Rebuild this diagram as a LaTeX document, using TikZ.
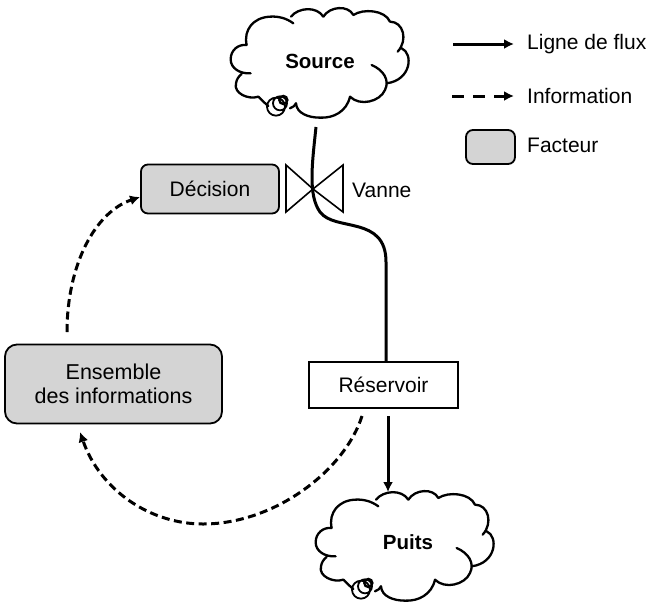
\documentclass[tikz,border=0pt]{standalone}
\usepackage{fontspec}
\setmainfont{Liberation Sans}
\usetikzlibrary{arrows.meta}
\tikzset{
  factor/.style={draw=black, fill=black!17, rounded corners=7pt, line width=1.8pt, inner sep=0pt, align=center, font=\fontsize{21}{24}\selectfont},
  stock/.style={draw=black, fill=white, line width=2.2pt, inner sep=0pt, font=\fontsize{21}{24}\selectfont},
  label/.style={inner sep=0pt, anchor=west, font=\fontsize{21}{27}\selectfont},
  cloudlabel/.style={inner sep=0pt, font=\bfseries\fontsize{20.5}{24}\selectfont},
  flow/.style={line width=3pt, -{Latex[length=10pt,width=10pt]}},
  plainflow/.style={line width=3pt},
  info/.style={line width=3pt, dash pattern=on 8pt off 4.5pt, -{Latex[length=10pt,width=10pt]}},
  legendinfo/.style={line width=3pt, dash pattern=on 12pt off 9pt, -{Latex[length=10pt,width=10pt]}},
  valve/.style={line width=1.6pt, line join=miter},
  cloudline/.style={line width=2.3pt, line cap=round},
  pics/fluxcloud/.style={code={
    \draw[cloudline, x=0.3333pt, y=-0.3333pt]
      (122,220) .. controls (90,222) and (62,205) .. (62,178) .. controls (62,150) and (85,132) .. (110,135)
      (110,135) .. controls (100,90) and (130,52) .. (180,50) .. controls (205,48) and (230,55) .. (250,70)
      (243,50) .. controls (265,22) and (320,18) .. (340,50)
      (340,50) .. controls (360,18) and (415,15) .. (430,45)
      (430,45) .. controls (460,25) and (525,30) .. (540,65)
      (540,65) .. controls (580,65) and (595,120) .. (563,155)
      (575,145) .. controls (610,160) and (605,240) .. (530,250)
      (485,195) .. controls (520,210) and (540,240) .. (525,270) .. controls (510,305) and (450,320) .. (420,290)
      (420,290) .. controls (410,335) and (370,355) .. (330,353) .. controls (295,353) and (260,340) .. (258,310)
      (145,290) .. controls (115,300) and (70,280) .. (78,250) .. controls (80,238) and (85,230) .. (95,222);
    \draw[cloudline, x=0.3333pt, y=-0.3333pt]
      (145,290) .. controls (155,300) and (165,310) .. (175,318)
      (240,325) .. controls (250,322) and (255,316) .. (258,310);
    \draw[line width=1.8pt, x=0.3333pt, y=-0.3333pt]
      (198,320) circle [radius=9pt]
      (210,310) circle [radius=7pt];
    \draw[line width=2.4pt, x=0.3333pt, y=-0.3333pt]
      (220,300) circle [radius=4pt];
  }}
}
\begin{document}
\begin{tikzpicture}[x=1pt, y=-1pt]
  \useasboundingbox (0,0) rectangle (650,603);
  % clouds
  \pic at (210,0) {fluxcloud};
  \pic at (295,483) {fluxcloud};
  \node[cloudlabel] (source) at (320,61) {Source};
  \node[cloudlabel] (puits) at (408,542) {Puits};
  % factors and stock
  \node[factor, minimum width=138pt, minimum height=49pt] (decision) at (210,189) {Décision};
  \node[factor, rounded corners=12pt, minimum width=217pt, minimum height=79pt, font=\fontsize{21.5}{24}\selectfont] (ensemble) at (113.5,384) {Ensemble\\des informations};
  \node[stock, minimum width=149pt, minimum height=46pt] (reservoir) at (383.5,385) {Réservoir};
  % valve
  \coordinate (vanne) at (313,189);
  \draw[valve] (vanne) -- (286,165) -- (286,212) -- cycle;
  \draw[valve] (vanne) -- (343,165) -- (343,212) -- cycle;
  \node[label] (vannelabel) at (352,190) {Vanne};
  % flow
  \coordinate (sourceout) at (316,127);
  \coordinate (reservoirout) at (388,416);
  \coordinate (puitsin) at (388,492);
  \draw[plainflow] (sourceout) .. controls (312,165) and (308,195) .. (320,212) .. controls (335,232) and (386,215) .. (386,262) -- (reservoir.north -| 386,362);
  \draw[flow] (reservoirout) -- (puitsin);
  % information
  \coordinate (reservoirinfo) at (362,416);
  \coordinate (ensembletop) at (67,332);
  \draw[info] (reservoirinfo) .. controls (345,470) and (275,524) .. (203,524) .. controls (150,524) and (100,490) .. (80,432);
  \draw[info] (ensembletop) .. controls (67,265) and (95,212) .. (decision.west |- 0,197);
  % legend
  \coordinate (fluxa) at (453,44);
  \coordinate (fluxb) at (514,44);
  \coordinate (infoa) at (452,96);
  \coordinate (infob) at (514,96);
  \draw[flow] (fluxa) -- (fluxb);
  \draw[legendinfo] (infoa) -- (infob);
  \node[factor, minimum width=49pt, minimum height=34pt] (facteur) at (490.5,147) {};
  \node[label] (fluxlabel) at (527,44) {Ligne de flux};
  \node[label] (infolabel) at (527,96) {Information};
  \node[label] (facteurlabel) at (527,145) {Facteur};
\end{tikzpicture}
\end{document}
